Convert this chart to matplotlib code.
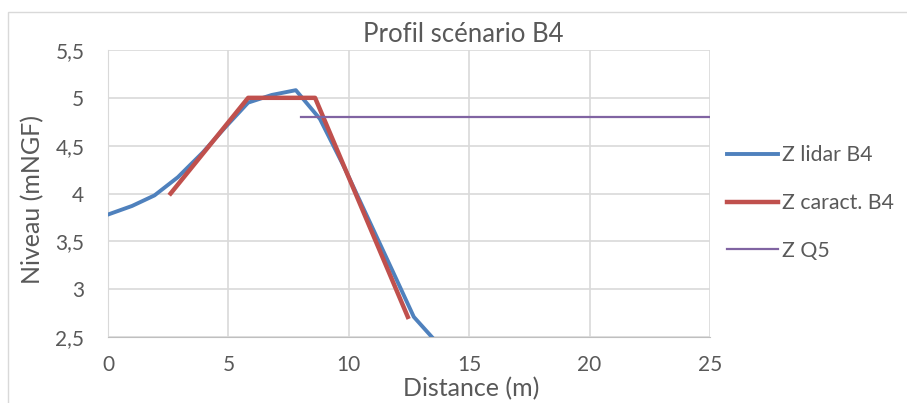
import numpy as np
import matplotlib.pyplot as plt
from matplotlib.patches import Rectangle

plt.rcParams['font.family'] = ['Lato', 'DejaVu Sans']

# Z lidar B4
lidar_x = [0, 1, 1.93, 2.9, 3.94, 4.9, 5.82, 6.8, 7.8, 8.8, 9.8, 10.8, 11.8, 12.7, 13.45]
lidar_z = [3.78, 3.87, 3.98, 4.17, 4.43, 4.70, 4.95, 5.03, 5.08, 4.78, 4.28, 3.74, 3.20, 2.71, 2.50]

# Z caract. B4
caract_x = [2.6, 5.82, 8.6, 12.45]
caract_z = [4.0, 5.0, 5.0, 2.71]

# Z Q5
q5_x = [8.0, 25.0]
q5_z = [4.8, 4.8]

x_ticks = [0, 5, 10, 15, 20, 25]
y_ticks = [2.5, 3, 3.5, 4, 4.5, 5, 5.5]
y_labels = ['2,5', '3', '3,5', '4', '4,5', '5', '5,5']

text_col = '#595959'
grid_col = '#d9d9d9'

fig = plt.figure(figsize=(9.07, 4.03), dpi=100)
W, H = 907, 403
ax = fig.add_axes([108 / W, 1 - 337 / H, (710 - 108) / W, (337 - 50) / H])

# light border of the chart area
fig.patches.append(Rectangle((8 / W, -0.1), 1.2, 1 - 12 / H + 0.1, transform=fig.transFigure,
                             fill=False, edgecolor='#d9d9d9', linewidth=1.0))

ax.plot(lidar_x, lidar_z, color='#4f81bd', lw=2.8, label='Z lidar B4', solid_joinstyle='round', zorder=3)
ax.plot(caract_x, caract_z, color='#c0504d', lw=3.2, label='Z caract. B4', solid_joinstyle='round', zorder=4)
ax.plot(q5_x, q5_z, color='#8064a2', lw=1.6, label='Z Q5', zorder=5)

ax.set_xlim(0, 25)
ax.set_ylim(2.5, 5.5)
ax.set_xticks(x_ticks)
ax.set_yticks(y_ticks)
ax.set_yticklabels(y_labels)
ax.grid(True, color=grid_col, lw=1.2)
ax.set_axisbelow(True)
for s in ['top', 'right']:
    ax.spines[s].set_visible(False)
ax.spines['left'].set_color(grid_col)
ax.spines['bottom'].set_color('#bfbfbf')
ax.tick_params(length=0, labelsize=15, labelcolor=text_col)
ax.tick_params(axis='x', pad=13)
ax.tick_params(axis='y', pad=17)

fig.text(463 / W, 1 - 34 / H, 'Profil scénario B4', fontsize=18.5, color=text_col, ha='center', va='center')
fig.text(471 / W, 1 - 389 / H, 'Distance (m)', fontsize=18, color=text_col, ha='center', va='center')
fig.text(33 / W, 1 - 200 / H, 'Niveau (mNGF)', fontsize=18, color=text_col, ha='center', va='center',
         rotation=90)

leg = ax.legend(loc='center left', bbox_to_anchor=(727 / W, 1 - 203 / H), bbox_transform=fig.transFigure,
                frameon=False, fontsize=15.3, handlelength=2.4, handletextpad=0.2, labelspacing=1.3,
                borderpad=0, borderaxespad=0)
for t in leg.get_texts():
    t.set_color(text_col)

fig.savefig('out.png', dpi=100)
